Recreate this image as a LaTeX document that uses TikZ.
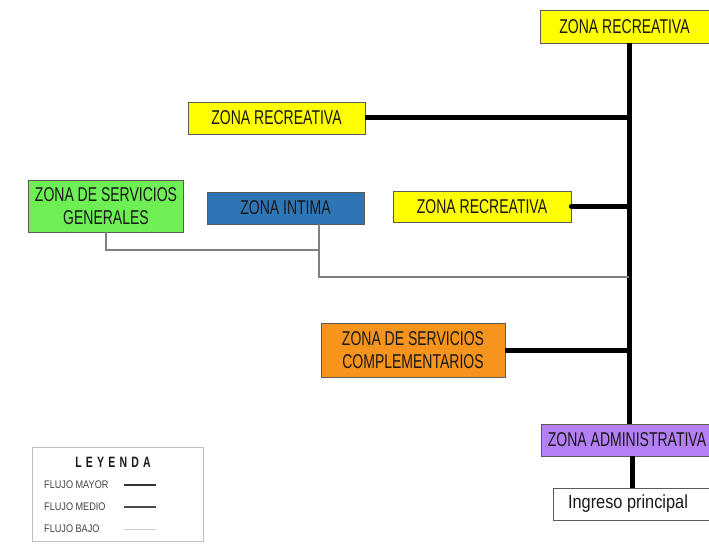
\documentclass[tikz,border=0pt]{standalone}
\usepackage{fontspec}
\setmainfont{Liberation Sans}[FakeStretch=0.7]
\newfontfamily\anchafont{Liberation Sans}[FakeStretch=0.86]
\newfontfamily\leyfont{Liberation Sans}[FakeStretch=0.83]
\definecolor{zamarillo}{RGB}{255,255,0}
\definecolor{zverde}{RGB}{110,240,85}
\definecolor{zazul}{RGB}{46,117,182}
\definecolor{znaranja}{RGB}{247,148,30}
\definecolor{zmorado}{RGB}{181,127,245}
\definecolor{zborde}{RGB}{90,90,90}
\definecolor{ztexto}{RGB}{25,25,25}
\usetikzlibrary{positioning,calc}

\begin{document}
\begin{tikzpicture}[x=1pt, y=-1pt,
  zona/.style={draw=zborde, line width=0.8pt, align=center, text=ztexto, inner sep=0pt, font=\fontsize{20}{23}\selectfont},
  mayor/.style={line width=5pt, black},
  bajo/.style={line width=1.3pt, black!50},
  leymayor/.style={line width=2.6pt, black!80},
  leymedio/.style={line width=1.8pt, black!70},
  leybajo/.style={line width=1pt, black!20}]
  \useasboundingbox (0,0) rectangle (709,548);

  % zonas
  \node[zona, fill=zamarillo, minimum width=169pt, minimum height=33pt] (rec1) at (624.5,26.5) {ZONA RECREATIVA};
  \node[zona, fill=zamarillo, minimum width=177pt, minimum height=32pt] (rec2) at (276.5,118) {ZONA RECREATIVA};
  \node[zona, fill=zamarillo, minimum width=178pt, minimum height=31pt] (rec3) at (482,206.5) {ZONA RECREATIVA};
  \node[zona, fill=zverde, minimum width=155pt, minimum height=52pt] (servgen) at (106,206) {ZONA DE SERVICIOS\\GENERALES};
  \node[zona, fill=zazul, minimum width=157pt, minimum height=32pt] (intima) at (285.5,208) {ZONA INTIMA};
  \node[zona, fill=znaranja, minimum width=184pt, minimum height=54pt] (servcomp) at (413,350) {ZONA DE SERVICIOS\\COMPLEMENTARIOS};
  \node[zona, fill=zmorado, minimum width=168pt, minimum height=32pt] (admin) at (625,440) {\hspace*{4pt}ZONA ADMINISTRATIVA};
  \node[zona, fill=white, minimum width=160pt, minimum height=32pt, font=\anchafont\fontsize{19}{21}\selectfont] (ingreso) at (633,504) {\hspace*{-10pt}Ingreso principal};

  % ejes
  \coordinate (eje) at (629,424);
  \coordinate (cruce) at (319,250);
  \coordinate (bajoeje) at (629,277);

  \draw[mayor] (rec1.south -| eje) -- (eje);
  \draw[mayor] (rec2.east) -- (rec2.east -| eje);
  \draw[mayor, line cap=round] (rec3.east) -- (rec3.east -| eje);
  \draw[mayor] (servcomp.east) -- (servcomp.east -| eje);
  \draw[mayor] (admin.south -| eje) ++(3,0) coordinate (bajada) -- (bajada |- ingreso.north);
  \draw[bajo] (servgen.south) |- (cruce);
  \draw[bajo] (intima.south -| cruce) -- (cruce |- bajoeje) -- (bajoeje);

  % leyenda
  \node[draw=black!25, line width=1pt, minimum width=171pt, minimum height=94pt] (leyenda) at (117.5,494) {};
  \node[font=\fontsize{15}{17}\selectfont\bfseries\addfontfeature{LetterSpace=28}, text=ztexto] (titulo) at (113,462) {LEYENDA};
  \foreach \nombre/\estilo/\y in {FLUJO MAYOR/leymayor/485, FLUJO MEDIO/leymedio/507, FLUJO BAJO/leybajo/529} {
    \node[anchor=west, inner sep=0pt, font=\leyfont\fontsize{11}{13}\selectfont, text=black!75] at (44,\y) {\nombre};
    \draw[\estilo] (124,\y) -- (156,\y);
  }
\end{tikzpicture}
\end{document}
